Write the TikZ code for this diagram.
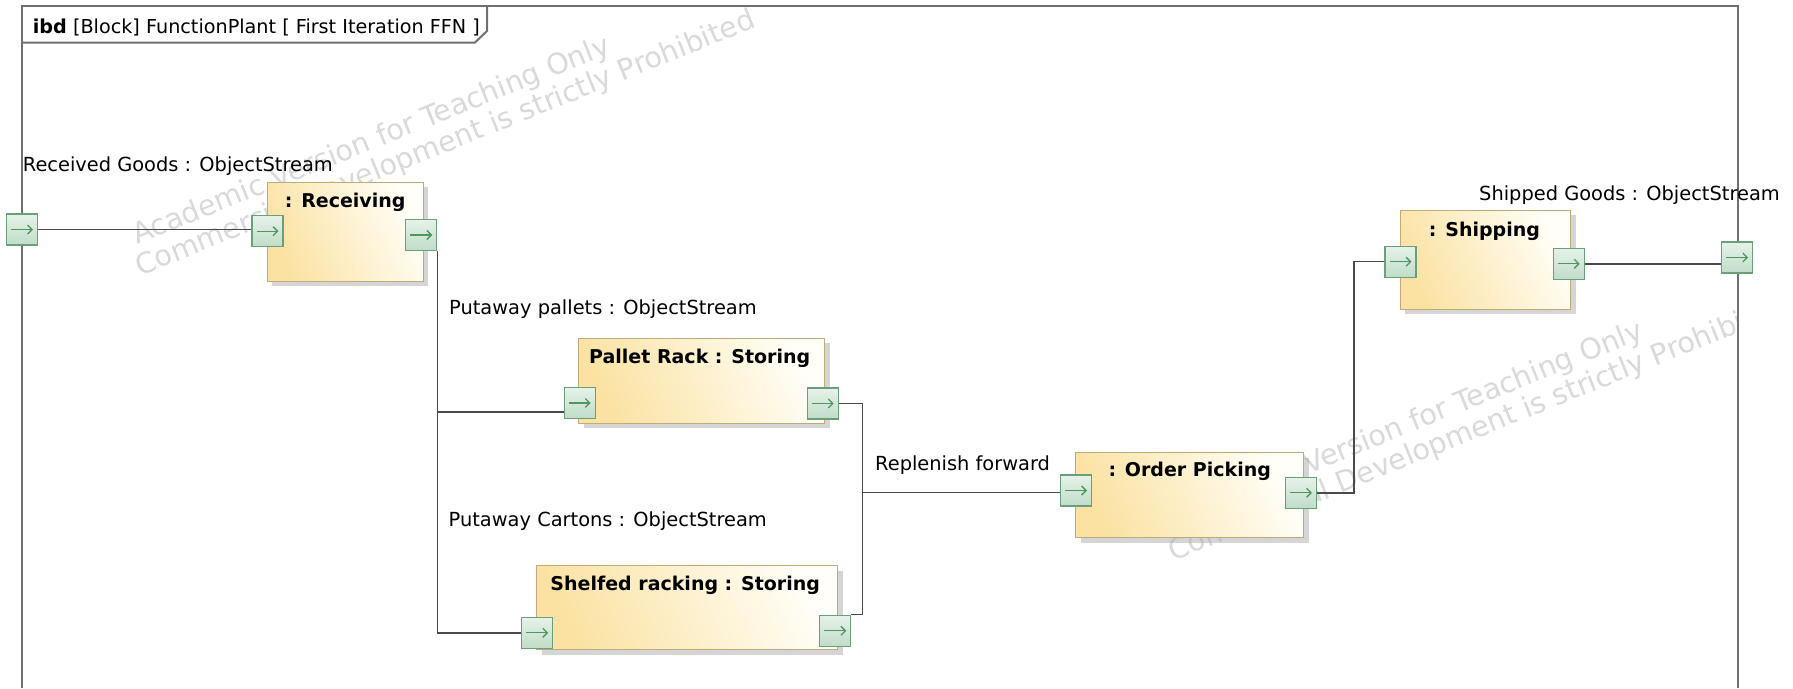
\documentclass[tikz,border=0pt]{standalone}
\usepackage{fontspec}
\setmainfont{DejaVu Sans}
\usetikzlibrary{arrows.meta,shadows,calc}
\definecolor{blkfill}{HTML}{FBE2A2}
\definecolor{blkwhite}{HTML}{FFFEF8}
\definecolor{blkborder}{HTML}{BFAB78}
\definecolor{portborder}{HTML}{6A9F79}
\definecolor{porttop}{HTML}{E6F2E9}
\definecolor{portbot}{HTML}{C0DDC8}
\definecolor{portarrow}{HTML}{4F9560}
\definecolor{wirec}{HTML}{4A4A4A}
\definecolor{framec}{HTML}{707070}
\definecolor{wmcol}{HTML}{D9D9D9}
\begin{document}
\begin{tikzpicture}[x=1pt,y=-1pt,
  lbl/.style={font=\fontsize{19.4}{23}\selectfont, inner sep=0, anchor=base west, text=black},
  ttl/.style={font=\fontsize{19}{23}\selectfont\bfseries, inner sep=0, anchor=base, text=black},
  blockbox/.style={draw=blkborder, line width=1.4pt, top color=blkwhite, bottom color=blkfill,
    shading angle=-65, inner sep=0, anchor=north west,
    drop shadow={shadow xshift=5pt, shadow yshift=-5pt, fill=black!32}},
  portbox/.style={draw=portborder, line width=1.3pt, top color=porttop, bottom color=portbot,
    minimum width=31pt, minimum height=31pt, inner sep=0,
    path picture={\draw[portarrow, line width=1.3pt, -{Straight Barb[length=4.5pt,width=9pt]}]
      ([xshift=4.5pt]path picture bounding box.west) -- ([xshift=-4.5pt]path picture bounding box.east);}},
  wire/.style={draw=wirec, line width=1.5pt},
  framel/.style={draw=framec, line width=2pt},
  wm/.style={font=\fontsize{28.6}{30}\selectfont, text=wmcol, rotate=22, inner sep=0}
]
\useasboundingbox (0,0) rectangle (1793,688);
\fill[white] (0,0) rectangle (1793,688);
% watermark
\begin{scope}
\clip (21.7,6) rectangle (1737.5,688);
\node[wm, anchor=base east] (wma1) at (612,53) {Academic Version for Teaching Only};
\node[wm, anchor=base east] (wmb1) at (757,27) {Commercial Development is strictly Prohibited};
\node[wm, anchor=base east] (wma2) at (1645,338) {Academic Version for Teaching Only};
\node[wm, anchor=base east] (wmb2) at (1790,312) {Commercial Development is strictly Prohibited};
\end{scope}
% frame
\draw[framel] (21.7,688) -- (21.7,6) -- (1737.5,6) -- (1737.5,688);
\draw[framel] (21.7,42.5) -- (475,42.5) -- (487,31) -- (487,6);
\node[anchor=base west, inner sep=0, font=\fontsize{19.2}{23}\selectfont] (title) at (32.7,33.3)
  {\textbf{ibd} [Block] FunctionPlant [ First Iteration FFN ]};
% blocks
\node[blockbox, minimum width=156pt, minimum height=99pt] (rcv) at (266.5,181.5) {};
\node[blockbox, minimum width=246pt, minimum height=85pt] (pal) at (578,337.5) {};
\node[blockbox, minimum width=301pt, minimum height=84pt] (shf) at (536,565) {};
\node[blockbox, minimum width=228pt, minimum height=85pt] (opk) at (1075,452) {};
\node[blockbox, minimum width=170.5pt, minimum height=99pt] (shp) at (1399.5,209.5) {};
\node[ttl] (rcvt) at ([yshift=-26pt]rcv.north) {: Receiving};
\node[ttl] (palt) at ([xshift=-2pt,yshift=-25.5pt]pal.north) {Pallet Rack : Storing};
\node[ttl] (shft) at ([xshift=-2pt,yshift=-25.5pt]shf.north) {Shelfed racking : Storing};
\node[ttl] (opkt) at ([yshift=-24.5pt]opk.north) {: Order Picking};
\node[ttl] (shpt) at ([xshift=-1pt,yshift=-27pt]shp.north) {: Shipping};
% ports
\node[portbox] (fin) at (22,229.5) {};
\node[portbox] (rin) at (267.5,231.2) {};
\node[portbox] (rout) at (421.3,235) {};
\node[portbox] (pin) at (579.7,403) {};
\node[portbox] (pout) at (822.7,403.5) {};
\node[portbox] (sin) at (537.2,632.8) {};
\node[portbox] (sout) at (835.3,630.8) {};
\node[portbox] (oin) at (1076,490.5) {};
\node[portbox] (oout) at (1301,492.8) {};
\node[portbox] (hin) at (1400.5,261.7) {};
\node[portbox] (hout) at (1568.7,263.8) {};
\node[portbox] (fout) at (1737.2,257.5) {};
% wires
\draw[wire] (fin.east) -- (fin.east -| rin.west);
\draw[wire] (rout.south east) |- ([yshift=-9pt]pin.west);
\draw[wire] (rout.south east) |- (sin.west);
\coordinate (jr) at (862.7,492.7);
\draw[wire] (pout.east) -| (jr);
\draw[wire] (sout.north east) -| (jr);
\draw[wire] (jr) -- (jr -| oin.west);
\draw[wire] (oout.east) -- ++(37,0) |- (hin.west);
\draw[wire] (hout.east) -- (hout.east -| fout.west);
% labels
\node[lbl] (l1) at (22.7,171.7) {Received Goods : ObjectStream};
\node[lbl] (l2) at (449,314) {Putaway pallets : ObjectStream};
\node[lbl] (l3) at (448.5,526.7) {Putaway Cartons : ObjectStream};
\node[lbl] (l4) at (875,470) {Replenish forward};
\node[lbl] (l5) at (1479,200.7) {Shipped Goods : ObjectStream};
\end{tikzpicture}
\end{document}
